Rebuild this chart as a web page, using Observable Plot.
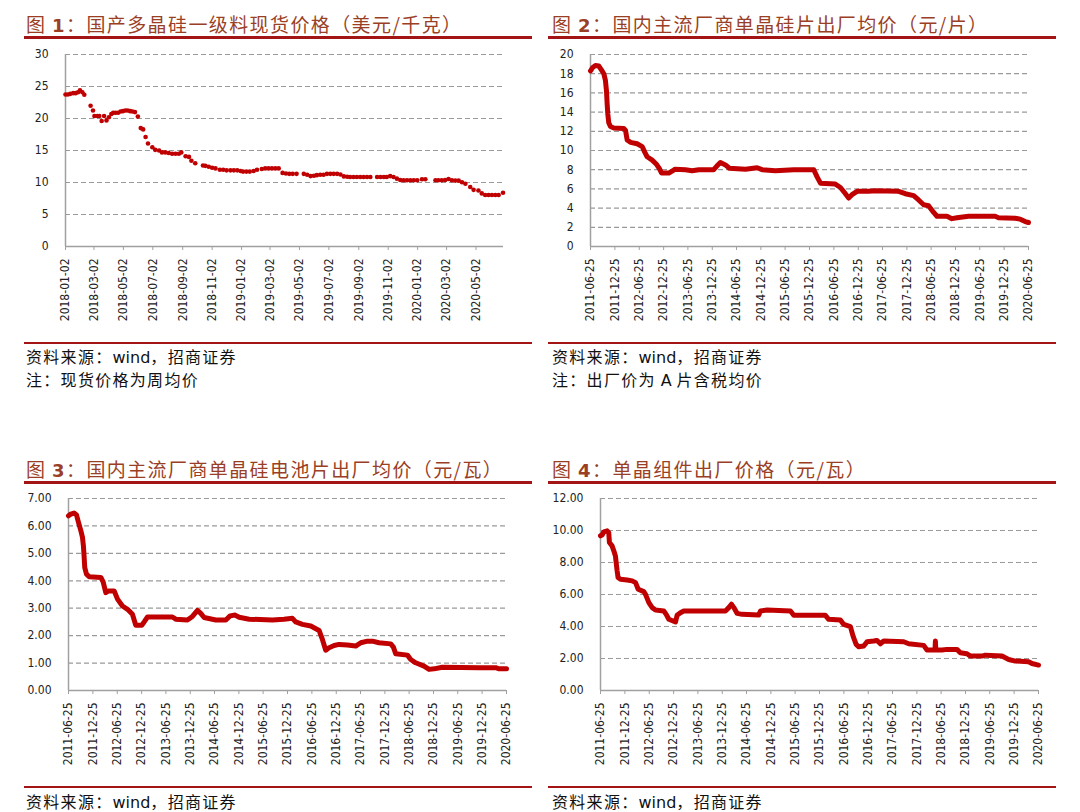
<!DOCTYPE html>
<html><head><meta charset="utf-8">
<script src="https://cdn.jsdelivr.net/npm/d3@7"></script>
<script src="https://cdn.jsdelivr.net/npm/@observablehq/plot@0.6"></script>
<style>
body{margin:0;background:#fff;}
#page{position:relative;width:1080px;height:812px;overflow:hidden;background:#fff;}
.title{position:absolute;font-family:"Noto Sans CJK SC",sans-serif;font-size:19px;line-height:20px;color:#9a3f26;letter-spacing:1.4px;white-space:nowrap;}
.title b{font-family:"DejaVu Sans",sans-serif;font-weight:bold;font-size:18px;}
.rule{position:absolute;height:3px;background:#a31515;}
.rule2{position:absolute;height:2px;background:#a31515;}
.src{position:absolute;font-family:"Noto Sans CJK SC",sans-serif;font-size:16px;line-height:18px;color:#111;letter-spacing:1.3px;white-space:nowrap;}
.src .w{font-family:"DejaVu Sans",sans-serif;letter-spacing:0;}
.chart{position:absolute;}
</style></head>
<body><div id="page">
<div class="title" style="left:26px;top:14px">图 <b>1</b>：国产多晶硅一级料现货价格（美元/千克）</div>
<div class="rule" style="left:24px;top:36px;width:508px"></div>
<div class="title" style="left:552px;top:14px">图 <b>2</b>：国内主流厂商单晶硅片出厂均价（元/片）</div>
<div class="rule" style="left:548px;top:36px;width:508px"></div>
<div class="rule2" style="left:24px;top:342px;width:508px"></div>
<div class="rule2" style="left:548px;top:342px;width:508px"></div>
<div class="src" style="left:26px;top:347px">资料来源：<span class="w">wind</span>，招商证券</div>
<div class="src" style="left:26px;top:370px">注：现货价格为周均价</div>
<div class="src" style="left:552px;top:347px">资料来源：<span class="w">wind</span>，招商证券</div>
<div class="src" style="left:552px;top:370px">注：出厂价为 <span class="w">A</span> 片含税均价</div>

<div class="title" style="left:26px;top:459px">图 <b>3</b>：国内主流厂商单晶硅电池片出厂均价（元/瓦）</div>
<div class="rule" style="left:24px;top:481px;width:508px"></div>
<div class="title" style="left:552px;top:459px">图 <b>4</b>：单晶组件出厂价格（元/瓦）</div>
<div class="rule" style="left:548px;top:481px;width:508px"></div>
<div class="rule2" style="left:24px;top:786px;width:508px"></div>
<div class="rule2" style="left:548px;top:786px;width:508px"></div>
<div class="src" style="left:26px;top:792px">资料来源：<span class="w">wind</span>，招商证券</div>
<div class="src" style="left:552px;top:792px">资料来源：<span class="w">wind</span>，招商证券</div>

<div id="c1" class="chart" style="left:0px;top:45px"></div>
<div id="c2" class="chart" style="left:540px;top:45px"></div>
<div id="c3" class="chart" style="left:0px;top:490px"></div>
<div id="c4" class="chart" style="left:540px;top:490px"></div>
</div>
<script>
// ---- Data ----
const polysiliconPrice = [
["2018-01-02",23.75],["2018-01-07",23.75],["2018-01-12",23.85],["2018-01-18",23.96],["2018-01-23",23.96],["2018-01-28",24.1],["2018-02-01",24.4],["2018-02-06",24.1],["2018-02-10",23.7],
["2018-02-23",22.0],["2018-02-28",21.25],["2018-03-03",20.4],["2018-03-09",20.4],["2018-03-13",20.4],["2018-03-18",19.6],["2018-03-23",20.4],["2018-03-28",19.7],["2018-04-02",20.2],["2018-04-07",20.7],["2018-04-11",20.9],["2018-04-16",20.9],["2018-04-21",20.9],["2018-04-26",21.1],["2018-05-01",21.15],["2018-05-06",21.25],["2018-05-11",21.25],["2018-05-16",21.15],["2018-05-21",21.1],["2018-05-26",21.0],["2018-06-01",20.3],
["2018-06-07",18.5],["2018-06-12",18.3],["2018-06-17",17.1],["2018-06-22",16.1],["2018-07-01",15.5],["2018-07-07",15.1],["2018-07-15",15.0],["2018-07-21",14.7],["2018-07-28",14.7],["2018-08-04",14.6],["2018-08-11",14.5],["2018-08-18",14.5],["2018-08-25",14.5],["2018-08-30",14.7],
["2018-09-08",14.1],["2018-09-15",14.0],["2018-09-20",13.4],["2018-09-28",13.0],
["2018-10-14",12.65],["2018-10-19",12.6],["2018-10-26",12.45],["2018-11-02",12.3],["2018-11-09",12.2],["2018-11-18",12.0],["2018-11-25",12.0],["2018-12-02",11.9],["2018-12-10",11.9],["2018-12-17",11.9],["2018-12-24",11.9],["2018-12-31",11.8],
["2019-01-05",11.7],["2019-01-12",11.7],["2019-01-19",11.7],["2019-01-27",11.8],["2019-02-03",12.0],["2019-02-13",12.1],["2019-02-20",12.2],["2019-02-27",12.2],["2019-03-06",12.2],["2019-03-13",12.2],["2019-03-20",12.2],
["2019-03-28",11.5],["2019-04-04",11.4],["2019-04-11",11.35],["2019-04-18",11.35],["2019-04-26",11.35],
["2019-05-11",11.35],["2019-05-18",11.2],["2019-05-25",11.0],["2019-06-01",11.05],["2019-06-07",11.15],["2019-06-14",11.2],["2019-06-21",11.2],["2019-06-28",11.35],["2019-07-05",11.35],["2019-07-12",11.35],["2019-07-19",11.35],["2019-07-26",11.25],
["2019-08-02",10.95],["2019-08-09",10.9],["2019-08-15",10.85],["2019-08-22",10.85],["2019-08-29",10.85],["2019-09-05",10.85],["2019-09-12",10.85],["2019-09-19",10.85],["2019-09-26",10.85],
["2019-10-10",10.85],["2019-10-17",10.85],["2019-10-24",10.85],["2019-10-30",10.85],["2019-11-06",11.0],["2019-11-13",10.85],["2019-11-20",10.6],["2019-11-27",10.4],["2019-12-04",10.35],["2019-12-11",10.35],["2019-12-18",10.35],["2019-12-25",10.35],["2020-01-01",10.35],["2020-01-11",10.5],["2020-01-18",10.5],
["2020-02-08",10.35],["2020-02-14",10.35],["2020-02-21",10.35],["2020-02-28",10.4],["2020-03-06",10.55],["2020-03-13",10.35],["2020-03-20",10.3],["2020-03-27",10.3],["2020-04-03",10.05],["2020-04-10",9.8],
["2020-04-20",9.3],["2020-04-27",8.85],["2020-05-07",8.75],["2020-05-14",8.3],["2020-05-21",8.05],["2020-05-28",8.05],["2020-06-04",8.05],["2020-06-11",8.05],["2020-06-18",8.05],["2020-06-27",8.4]
];
const waferPrice = [
["2011-06-25",18.3],["2011-07-12",18.65],["2011-08-01",18.85],["2011-08-26",18.8],["2011-09-15",18.4],["2011-10-03",18.0],["2011-10-15",17.3],["2011-10-23",16.2],["2011-10-28",14.85],["2011-11-02",13.8],["2011-11-09",12.9],["2011-11-22",12.5],["2011-12-17",12.35],["2012-03-01",12.3],["2012-03-14",12.1],["2012-03-26",11.1],["2012-04-20",10.85],["2012-06-09",10.7],["2012-07-17",10.4],["2012-08-06",9.8],["2012-08-23",9.35],["2012-09-30",9.0],["2012-10-30",8.6],["2012-11-24",8.1],["2012-12-09",7.65],["2013-02-02",7.65],["2013-03-04",7.9],["2013-03-19",8.05],["2013-06-07",8.0],["2013-07-27",7.9],["2013-09-15",8.0],["2014-01-05",8.0],["2014-01-30",8.4],["2014-02-24",8.75],["2014-04-03",8.5],["2014-05-03",8.15],["2014-08-31",8.05],["2014-11-27",8.2],["2015-01-03",8.0],["2015-04-13",7.9],["2015-08-29",8.0],["2016-01-26",8.0],["2016-02-20",7.25],["2016-03-16",6.6],["2016-07-06",6.5],["2016-08-13",6.15],["2016-09-14",5.6],["2016-10-14",5.05],["2016-11-08",5.4],["2016-12-16",5.75],["2017-03-13",5.75],["2017-05-02",5.8],["2017-10-24",5.75],["2017-12-13",5.5],["2018-02-14",5.3],["2018-03-23",4.85],["2018-04-30",4.35],["2018-06-06",4.25],["2018-07-14",3.55],["2018-08-08",3.15],["2018-10-22",3.15],["2018-11-28",2.9],["2019-01-05",3.0],["2019-04-02",3.15],["2019-10-19",3.15],["2019-11-13",3.0],["2020-03-17",2.95],["2020-04-24",2.85],["2020-05-31",2.6],["2020-06-25",2.5]
];
const cellPrice = [
["2011-06-25",6.37],["2011-07-12",6.43],["2011-08-06",6.47],["2011-08-24",6.4],["2011-09-08",6.13],["2011-09-26",5.82],["2011-10-08",5.58],["2011-10-15",5.27],["2011-10-20",4.9],["2011-10-25",4.48],["2011-11-07",4.24],["2011-11-27",4.15],["2012-02-23",4.12],["2012-03-11",3.96],["2012-03-31",3.57],["2012-04-20",3.63],["2012-06-02",3.63],["2012-06-27",3.33],["2012-08-03",3.08],["2012-09-10",2.96],["2012-10-17",2.78],["2012-11-11",2.38],["2012-12-26",2.38],["2013-01-13",2.5],["2013-02-07",2.68],["2013-08-13",2.68],["2013-09-07",2.6],["2013-12-04",2.57],["2014-01-10",2.7],["2014-02-17",2.92],["2014-03-14",2.81],["2014-04-08",2.66],["2014-07-05",2.57],["2014-09-18",2.57],["2014-10-20",2.72],["2014-11-27",2.75],["2014-12-27",2.67],["2015-03-12",2.6],["2015-09-03",2.57],["2015-11-29",2.6],["2016-01-31",2.63],["2016-02-25",2.5],["2016-04-15",2.41],["2016-06-17",2.35],["2016-08-18",2.19],["2016-09-12",1.86],["2016-10-07",1.47],["2016-11-01",1.56],["2016-12-09",1.64],["2017-01-15",1.68],["2017-03-19",1.66],["2017-05-20",1.62],["2017-06-27",1.74],["2017-08-16",1.8],["2017-09-22",1.8],["2017-11-11",1.74],["2018-02-07",1.7],["2018-02-27",1.58],["2018-03-16",1.34],["2018-06-12",1.29],["2018-07-07",1.13],["2018-08-13",1.01],["2018-10-15",0.89],["2018-11-22",0.77],["2018-12-29",0.79],["2019-03-02",0.85],["2019-12-02",0.83],["2020-04-05",0.83],["2020-04-30",0.79],["2020-06-25",0.79]
];
const modulePrice = [
["2011-06-25",9.67],["2011-07-07",9.72],["2011-07-20",9.92],["2011-08-14",9.98],["2011-08-26",9.87],["2011-08-31",9.25],["2011-09-20",9.04],["2011-10-03",8.73],["2011-10-15",8.41],["2011-10-28",7.47],["2011-11-04",7.06],["2011-11-22",6.95],["2012-01-11",6.91],["2012-02-18",6.85],["2012-03-14",6.74],["2012-04-03",6.33],["2012-05-15",6.18],["2012-05-28",6.01],["2012-06-22",5.49],["2012-07-17",5.18],["2012-08-11",5.03],["2012-10-12",4.97],["2012-10-30",4.76],["2012-11-19",4.45],["2013-01-08",4.28],["2013-01-20",4.7],["2013-02-14",4.86],["2013-03-11",4.97],["2014-01-18",4.97],["2014-02-12",5.18],["2014-03-04",5.39],["2014-03-22",5.18],["2014-04-16",4.82],["2014-05-23",4.76],["2014-09-25",4.72],["2014-10-08",4.97],["2014-11-27",5.03],["2015-05-21",4.97],["2015-06-15",4.7],["2016-02-07",4.7],["2016-03-03",4.45],["2016-05-30",4.4],["2016-06-24",4.13],["2016-08-13",3.99],["2016-09-02",3.4],["2016-09-25",2.88],["2016-10-15",2.73],["2016-11-21",2.78],["2016-12-16",3.05],["2017-02-04",3.09],["2017-03-01",3.13],["2017-03-26",2.92],["2017-04-20",3.09],["2017-09-17",3.05],["2017-10-25",2.92],["2018-02-14",2.82],["2018-03-11",2.53],["2018-05-10",2.53],["2018-05-13",3.09],["2018-05-16",2.53],["2018-07-02",2.53],["2018-08-08",2.57],["2018-10-22",2.57],["2018-11-16",2.36],["2019-01-05",2.3],["2019-01-31",2.15],["2019-04-28",2.15],["2019-05-23",2.21],["2019-09-25",2.15],["2019-11-14",1.94],["2020-01-03",1.84],["2020-04-12",1.8],["2020-05-07",1.69],["2020-06-25",1.59]
];

// ---- Tick labels ----
const ticksX1 = ["2018-01-02","2018-03-02","2018-05-02","2018-07-02","2018-09-02","2018-11-02","2019-01-02","2019-03-02","2019-05-02","2019-07-02","2019-09-02","2019-11-02","2020-01-02","2020-03-02","2020-05-02"];
const ticksXLong = ["2011-06-25","2011-12-25","2012-06-25","2012-12-25","2013-06-25","2013-12-25","2014-06-25","2014-12-25","2015-06-25","2015-12-25","2016-06-25","2016-12-25","2017-06-25","2017-12-25","2018-06-25","2018-12-25","2019-06-25","2019-12-25","2020-06-25"];
const ticksY1 = [0,5,10,15,20,25,30];
const ticksY2 = [0,2,4,6,8,10,12,14,16,18,20];
const ticksY3 = [0,1,2,3,4,5,6,7];
const ticksY4 = [0,2,4,6,8,10,12];

const parse = d3.utcParse("%Y-%m-%d");
const RED = "#c00000";
const AXIS = "#a0a0a0";

function makeChart(o) {
  const rows = o.data.map(([d, v]) => ({date: parse(d), value: v}));
  const tx = o.ticksX.map(parse);
  const dom = o.domainX.map(parse);
  const marks = [
    Plot.gridY(o.ticksY.filter(t => t > 0), {stroke: "#9a9a9a", strokeOpacity: 1, strokeDasharray: "5,3", strokeWidth: 1.2}),
    Plot.ruleY([0], {stroke: AXIS, strokeWidth: 1.5}),
    Plot.ruleX([dom[0]], {stroke: AXIS, strokeWidth: 1.5}),
    Plot.axisY({ticks: o.ticksY, tickSize: 0, tickPadding: 17, tickFormat: o.fmtY, label: null}),
    Plot.axisX({ticks: tx, tickSize: 4, tickPadding: 8, tickRotate: -90, tickFormat: d3.utcFormat("%Y-%m-%d"), stroke: AXIS, label: null}),
    o.kind === "dot"
      ? Plot.dot(rows, {x: "date", y: "value", r: 2.3, fill: RED, stroke: "none"})
      : Plot.line(rows, {x: "date", y: "value", stroke: RED, strokeWidth: 5, strokeLinejoin: "round", strokeLinecap: "round"})
  ];
  return Plot.plot({
    width: o.width, height: o.height,
    marginLeft: o.ml, marginRight: o.mr, marginTop: o.mt, marginBottom: o.mb,
    x: {type: "utc", domain: dom, label: null},
    y: {domain: o.domainY, label: null},
    style: {fontFamily: '"DejaVu Sans Condensed","DejaVu Sans",sans-serif', fontStretch: "condensed", fontSize: "12px", color: "#222", background: "transparent"},
    marks
  });
}

document.getElementById("c1").append(makeChart({data: polysiliconPrice, kind: "dot", ticksX: ticksX1, domainX: ["2018-01-02","2020-06-28"], ticksY: ticksY1, domainY: [0,30], fmtY: d3.format("d"), width: 520, height: 281, ml: 65, mr: 17, mt: 9, mb: 80}));
document.getElementById("c2").append(makeChart({data: waferPrice, kind: "line", ticksX: ticksXLong, domainX: ["2011-06-25","2020-06-25"], ticksY: ticksY2, domainY: [0,20], fmtY: d3.format("d"), width: 500, height: 281, ml: 50, mr: 12, mt: 9, mb: 80}));
document.getElementById("c3").append(makeChart({data: cellPrice, kind: "line", ticksX: ticksXLong, domainX: ["2011-06-25","2020-06-25"], ticksY: ticksY3, domainY: [0,7], fmtY: d3.format(".2f"), width: 520, height: 280, ml: 68, mr: 14, mt: 8, mb: 80}));
document.getElementById("c4").append(makeChart({data: modulePrice, kind: "line", ticksX: ticksXLong, domainX: ["2011-06-25","2020-06-25"], ticksY: ticksY4, domainY: [0,12], fmtY: d3.format(".2f"), width: 510, height: 280, ml: 60, mr: 12, mt: 8, mb: 80}));
</script>
</body></html>
